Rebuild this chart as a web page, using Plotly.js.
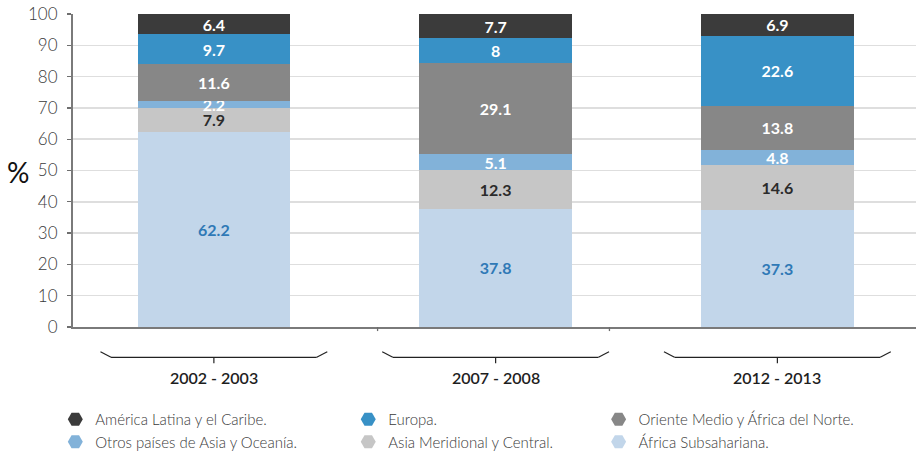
<!DOCTYPE html>
<html>
<head>
<meta charset="utf-8">
<script src="https://cdn.plot.ly/plotly-3.0.1.min.js"></script>
<style>html,body{margin:0;padding:0;background:#fff;}#chart{width:916px;height:454px;}</style>
</head>
<body>
<div id="chart"></div>
<script>
// ---- data ----
var categories = ['2002 - 2003', '2007 - 2008', '2012 - 2013'];
var seriesNames = ['África Subsahariana.', 'Asia Meridional y Central.', 'Otros países de Asia y Oceanía.',
                   'Oriente Medio y África del Norte.', 'Europa.', 'América Latina y el Caribe.'];
var africaSub = [62.2, 37.8, 37.3];
var asiaMeridional = [7.9, 12.3, 14.6];
var otrosAsia = [2.2, 5.1, 4.8];
var orienteMedio = [11.6, 29.1, 13.8];
var europa = [9.7, 8, 22.6];
var americaLatina = [6.4, 7.7, 6.9];
var yTicks = [0, 10, 20, 30, 40, 50, 60, 70, 80, 90, 100];

// ---- styles ----
var seriesValues = [africaSub, asiaMeridional, otrosAsia, orienteMedio, europa, americaLatina];
var fills = ['#c2d6ea', '#c6c6c6', '#82b2d9', '#878787', '#3891c6', '#3b3b3b'];
var labelColors = ['#2f79b6', '#2b2b2b', '#ffffff', '#ffffff', '#ffffff', '#ffffff'];
var legendOf = ['legend3', 'legend2', 'legend', 'legend3', 'legend2', 'legend'];
var FONT = 'Lato, "Open Sans", sans-serif';

var traces = [];
seriesValues.forEach(function (vals, k) {
  traces.push({
    type: 'bar',
    x: categories,
    y: vals,
    width: 0.542,
    name: seriesNames[k],
    showlegend: false,
    marker: {color: fills[k], line: {width: 0}},
    text: vals.map(function (v) { return String(v); }),
    textposition: 'inside',
    insidetextanchor: 'middle',
    constraintext: 'none',
    textangle: 0,
    textfont: {family: FONT, size: 16, color: labelColors[k], weight: 'bold'},
    hoverinfo: 'name+y'
  });
});
// legend entries (hexagon markers), top row first in each column
var legendOrder = [5, 2, 4, 1, 3, 0];
legendOrder.forEach(function (k) {
  traces.push({
    type: 'scatter',
    mode: 'markers',
    x: [null], y: [null],
    name: seriesNames[k],
    legend: legendOf[k],
    showlegend: true,
    marker: {symbol: 'hexagon2', size: 15, color: fills[k]},
    hoverinfo: 'skip'
  });
});

var shapes = [];
// small x-axis ticks
[0.581, 1.404].forEach(function (p) {
  shapes.push({type: 'line', xref: 'x', yref: 'paper', x0: p, x1: p, y0: 0, y1: -0.013,
               line: {color: '#6e6e6e', width: 1.3}});
});
// braces under each category
categories.forEach(function (c, i) {
  var lc = {color: '#222', width: 1.2};
  var yTop = -0.0789, yBar = -0.0968, yTick = -0.116;
  shapes.push({type: 'line', xref: 'x', yref: 'paper', x0: i - 0.4025, x1: i - 0.365, y0: yTop, y1: yBar, line: lc});
  shapes.push({type: 'line', xref: 'x', yref: 'paper', x0: i - 0.365, x1: i + 0.365, y0: yBar, y1: yBar, line: lc});
  shapes.push({type: 'line', xref: 'x', yref: 'paper', x0: i + 0.365, x1: i + 0.4025, y0: yBar, y1: yTop, line: lc});
  shapes.push({type: 'line', xref: 'x', yref: 'paper', x0: i, x1: i, y0: yBar, y1: yTick, line: lc});
});

var annotations = categories.map(function (c) {
  return {xref: 'x', yref: 'paper', x: c, y: -0.16, yanchor: 'middle', xanchor: 'center',
          text: c, showarrow: false, font: {family: FONT, size: 16, color: '#1e1e1e', weight: 600}};
});
annotations.push({xref: 'paper', yref: 'paper', x: -0.065, y: 0.496, xanchor: 'center', yanchor: 'middle',
                  text: '%', showarrow: false, font: {family: FONT, size: 28, color: '#111'}});

var legendBase = {orientation: 'v', yanchor: 'top', xanchor: 'left', yref: 'container', y: 0.1123,
                  traceorder: 'normal',
                  font: {family: FONT, size: 15, color: '#3a3a3a', weight: 300},
                  bgcolor: 'rgba(0,0,0,0)', tracegroupgap: 0, itemclick: false};
function leg(x) { var o = JSON.parse(JSON.stringify(legendBase)); o.x = x; return o; }

var layout = {
  width: 916, height: 454,
  margin: {l: 73, r: 0, t: 14, b: 127, pad: 0, autoexpand: false},
  paper_bgcolor: '#fff', plot_bgcolor: '#fff',
  barmode: 'stack',
  font: {family: FONT, color: '#333'},
  showlegend: true,
  xaxis: {
    type: 'category', range: [-0.5, 2.492], fixedrange: true,
    showticklabels: false, ticks: '', showgrid: false, zeroline: false,
    showline: true, linecolor: '#7a7a7a', linewidth: 1.5
  },
  yaxis: {
    range: [0, 100], fixedrange: true,
    tickvals: yTicks,
    ticks: 'outside', ticklen: 4, tickwidth: 1.3, tickcolor: '#6e6e6e',
    ticklabelstandoff: 6,
    tickfont: {family: FONT, size: 17, color: '#3a3a3a', weight: 300},
    showgrid: true, gridcolor: '#dedede', gridwidth: 1.5,
    zeroline: false, showline: true, linecolor: '#7a7a7a', linewidth: 2
  },
  legend: leg(-0.021),
  legend2: leg(0.3265),
  legend3: leg(0.6235),
  shapes: shapes,
  annotations: annotations
};

Plotly.newPlot('chart', traces, layout, {displayModeBar: false, staticPlot: true});
</script>
</body>
</html>
